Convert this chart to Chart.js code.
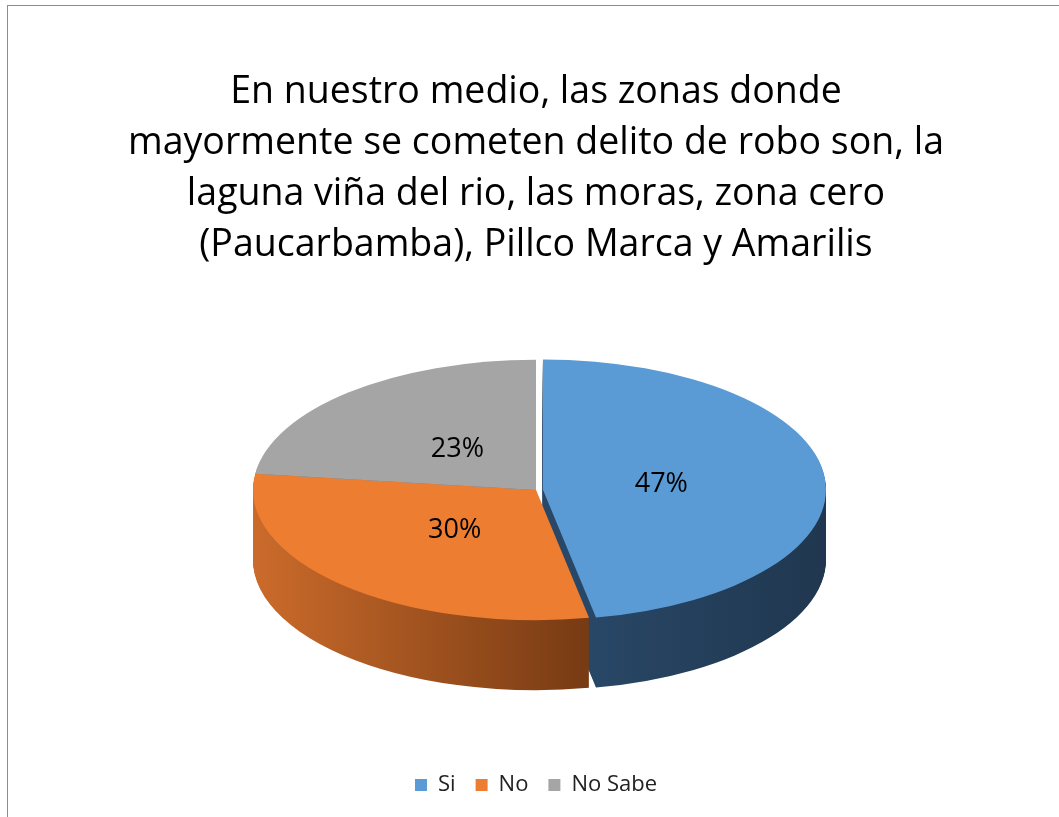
<!DOCTYPE html>
<html>
<head>
<meta charset="utf-8">
<script src="https://cdn.jsdelivr.net/npm/chart.js@4.4.0/dist/chart.umd.min.js"></script>
<style>
  html, body { margin: 0; padding: 0; background: #fff; overflow: hidden; }
  .frame { position: absolute; left: 7px; top: 5px; width: 1058px; height: 830px; border: 1px solid #8c8c8c; }
  .frame canvas { display: block; }
</style>
</head>
<body>
<div class="frame"><canvas id="pieChart" width="1056" height="812"></canvas></div>
<script>
// chart data
const categories = ["Si", "No", "No Sabe"];
const percentages = [47, 30, 23];
const titleLines = [
  "En nuestro medio, las zonas donde",
  "mayormente se cometen delito de robo son, la",
  "laguna viña del rio, las moras, zona cero",
  "(Paucarbamba), Pillco Marca y Amarilis",
];

// look of the 3d pie
const topColors = ["#5B9BD5", "#ED7D31", "#A5A5A5"];
const sideColors = [["#294868", "#20374F"], ["#CB6B2B", "#763A13"], ["#747474", "#5a5a5a"]];
const explode = [7, 0, 0];
const TILT = 0.46;
const DEPTH = 70;
const FONT = "'Open Sans', sans-serif";

// draws the pie squashed with a side wall, instead of the flat default
const pie3d = {
  id: "pie3d",
  beforeDatasetsDraw(chart) {
    const ctx = chart.ctx;
    const arcs = chart.getDatasetMeta(0).data;
    const cx = arcs[0].x, cy = arcs[0].y, r = arcs[0].outerRadius;

    const drawSlice = (arc, i, dy, fill) => {
      const mid = (arc.startAngle + arc.endAngle) / 2;
      const ex = Math.cos(mid) * explode[i];
      const ey = Math.sin(mid) * explode[i] * TILT;
      const copy = Object.create(arc);
      copy.options = Object.assign({}, arc.options, { backgroundColor: fill, borderWidth: 0 });
      ctx.save();
      ctx.translate(ex, dy + ey);
      ctx.translate(cx, cy);
      ctx.scale(1, TILT);
      ctx.translate(-cx, -cy);
      copy.draw(ctx);
      ctx.restore();
    };

    const sideFill = arcs.map((arc, i) => {
      const g = ctx.createLinearGradient(cx - r, 0, cx + r, 0);
      if (i === 1) {
        g.addColorStop(0, sideColors[i][0]);
        g.addColorStop(0.6, sideColors[i][1]);
      } else {
        g.addColorStop(0.55, sideColors[i][0]);
        g.addColorStop(1, sideColors[i][1]);
      }
      return g;
    });

    for (let d = DEPTH / 2; d > -DEPTH / 2; d--) {
      arcs.forEach((arc, i) => drawSlice(arc, i, d, sideFill[i]));
    }
    arcs.forEach((arc, i) => drawSlice(arc, i, -DEPTH / 2, topColors[i]));
    return false;
  },
  afterDraw(chart) {
    const ctx = chart.ctx;
    const arcs = chart.getDatasetMeta(0).data;
    ctx.save();
    ctx.font = "normal 400 27px " + FONT;
    ctx.fillStyle = "#000";
    ctx.textAlign = "center";
    ctx.textBaseline = "middle";
    arcs.forEach((arc, i) => {
      const mid = (arc.startAngle + arc.endAngle) / 2;
      const rr = arc.outerRadius * 0.42 + explode[i];
      const x = arc.x + Math.cos(mid) * rr;
      const y = arc.y - DEPTH / 2 + Math.sin(mid) * rr * TILT;
      ctx.fillText(percentages[i] + "%", x, y);
    });
    ctx.restore();
  },
};

new Chart(document.getElementById("pieChart"), {
  type: "pie",
  data: {
    labels: categories,
    datasets: [
      {
        data: percentages,
        backgroundColor: topColors,
        borderWidth: 0,
        radius: 283,
      },
    ],
  },
  options: {
    responsive: false,
    animation: false,
    events: [],
    layout: { padding: { bottom: 12 } },
    plugins: {
      tooltip: { enabled: false },
      title: {
        display: true,
        text: titleLines,
        color: "#000",
        font: { family: FONT, size: 37.5, weight: "normal", lineHeight: 51 / 37.5 },
        padding: { top: 61, bottom: 25 },
      },
      legend: {
        position: "bottom",
        labels: {
          boxWidth: 12,
          boxHeight: 12,
          padding: 20,
          color: "#222",
          font: { family: FONT, size: 22 },
        },
      },
    },
  },
  plugins: [pie3d],
});
</script>
</body>
</html>
